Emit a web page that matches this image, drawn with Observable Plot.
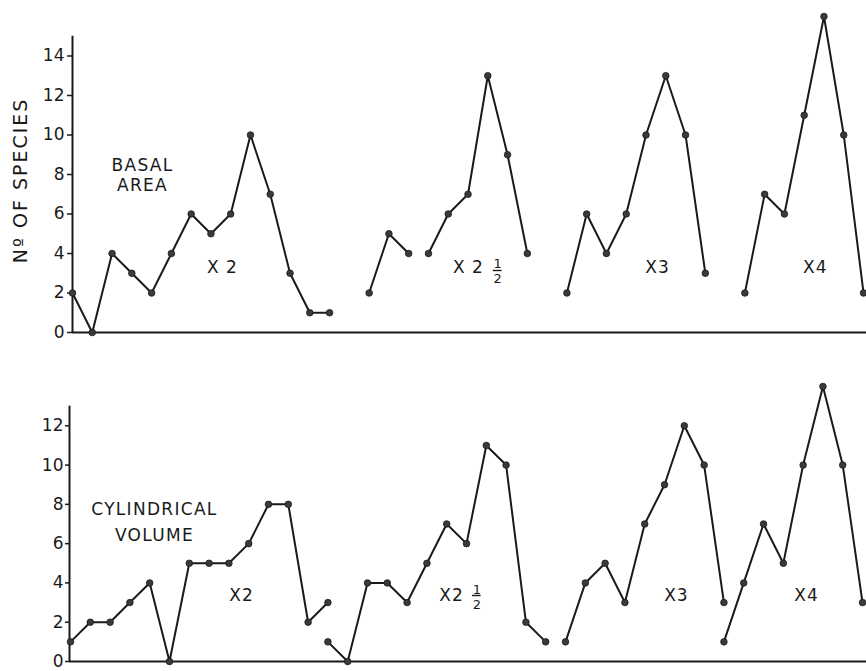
<!DOCTYPE html>
<html>
<head>
<meta charset="utf-8">
<script src="https://cdn.jsdelivr.net/npm/d3@7"></script>
<script src="https://cdn.jsdelivr.net/npm/@observablehq/plot@0.6"></script>
<style>
  body { margin: 0; background: #fff; }
  #chart svg { display: block; overflow: visible; }
</style>
</head>
<body>
<div id="chart"></div>
<script>
// ---- Data (size-class index -> number of species) ----
// Top panel: BASAL AREA
const basalX2      = [2, 0, 4, 3, 2, 4, 6, 5, 6, 10, 7, 3, 1, 1];
const basalX2hA    = [2, 5, 4];
const basalX2hB    = [4, 6, 7, 13, 9, 4];
const basalX3      = [2, 6, 4, 6, 10, 13, 10, 3];
const basalX4      = [2, 7, 6, 11, 16, 10, 2];
const basalStarts  = [0, 15, 18, 25, 34];
// Bottom panel: CYLINDRICAL VOLUME
const volX2        = [1, 2, 2, 3, 4, 0, 5, 5, 5, 6, 8, 8, 2, 3];
const volX2h       = [1, 0, 4, 4, 3, 5, 7, 6, 11, 10, 2, 1];
const volX3        = [1, 4, 5, 3, 7, 9, 12, 10, 3];
const volX4        = [1, 4, 7, 5, 10, 14, 10, 3];
const volStarts    = [0, 13, 25, 33];
// Tick labels
const basalTicks = [0, 2, 4, 6, 8, 10, 12, 14];
const volTicks   = [0, 2, 4, 6, 8, 10, 12];

function rows(series, starts) {
  const out = [];
  series.forEach((vals, s) => vals.forEach((v, i) => out.push({seg: s, x: starts[s] + i, y: v})));
  return out;
}
const basalData = rows([basalX2, basalX2hA, basalX2hB, basalX3, basalX4], basalStarts);
const volData = rows([volX2, volX2h, volX3, volX4], volStarts);

const INK = "#1a1a1a";
const FONT = "DejaVu Sans, sans-serif";

function seriesMarks(data) {
  return [
    Plot.line(data, {x: "x", y: "y", z: "seg", stroke: INK, strokeWidth: 2}),
    Plot.dot(data, {x: "x", y: "y", r: 3.3, fill: "#3a3a3a", stroke: INK, strokeWidth: 0.8})
  ];
}
function label(text, x, y) {
  return Plot.text([text], {x: [x], y: [y], text: d => d, fill: INK, fontSize: 17});
}
function fraction(x, yTop, yBar, yBot, halfW) {
  return [
    Plot.text(["1"], {x: [x], y: [yTop], text: d => d, fill: INK, fontSize: 13}),
    Plot.text(["2"], {x: [x], y: [yBot], text: d => d, fill: INK, fontSize: 13}),
    Plot.ruleY([yBar], {x1: x - halfW, x2: x + halfW, stroke: INK, strokeWidth: 1.4})
  ];
}
function space(svg, test, px) {
  d3.select(svg).selectAll('g[aria-label="text"] text')
    .filter(function () { return test(this.textContent); })
    .style("letter-spacing", px + "px");
}

const basalPlot = Plot.plot({
  width: 866, height: 340,
  marginLeft: 72, marginRight: 0, marginTop: 16, marginBottom: 8,
  style: {fontFamily: FONT, fontSize: "17px", color: INK, background: "#fff"},
  x: {domain: [0, 40.15], axis: null},
  y: {domain: [0, 16], axis: null},
  marks: [
    Plot.axisY({ticks: basalTicks, label: null, tickSize: 5, tickPadding: 3, fontSize: 17, stroke: INK, strokeWidth: 1.5, fill: INK}),
    Plot.ruleX([0], {y1: 0, y2: 15, stroke: INK, strokeWidth: 2}),
    Plot.ruleY([0], {x1: 0, x2: 40.15, stroke: INK, strokeWidth: 2}),
    ...seriesMarks(basalData),
    Plot.text(["Nº OF SPECIES"], {x: [0], y: [7.7], dx: -52, rotate: -90, text: d => d, fill: INK, fontSize: 19}),
    Plot.text(["BASAL\nAREA"], {x: [3.54], y: [8.0], text: d => d, fill: INK, fontSize: 17, lineHeight: 1.2}),
    label("X 2", 7.58, 3.29),
    label("X 2", 20.02, 3.29),
    ...fraction(21.5, 3.5, 3.14, 2.74, 0.22),
    label("X3", 29.58, 3.29),
    label("X4", 37.56, 3.29)
  ]
});

const volPlot = Plot.plot({
  width: 866, height: 331,
  marginLeft: 69, marginRight: 0, marginTop: 46, marginBottom: 10,
  style: {fontFamily: FONT, fontSize: "17px", color: INK, background: "#fff"},
  x: {domain: [-0.05, 40.2], axis: null},
  y: {domain: [0, 14], axis: null},
  marks: [
    Plot.axisY({ticks: volTicks, label: null, tickSize: 4, tickPadding: 2, fontSize: 17, stroke: INK, strokeWidth: 1.5, fill: INK}),
    Plot.ruleX([-0.05], {y1: 0, y2: 13, stroke: INK, strokeWidth: 2}),
    Plot.ruleY([0], {x1: -0.05, x2: 40.2, stroke: INK, strokeWidth: 2}),
    ...seriesMarks(volData),
    Plot.text(["CYLINDRICAL\nVOLUME"], {x: [4.24], y: [7.2], text: d => d, fill: INK, fontSize: 17, lineHeight: 1.5}),
    label("X2", 8.64, 3.36),
    label("X2", 19.24, 3.36),
    ...fraction(20.52, 3.66, 3.36, 2.88, 0.22),
    label("X3", 30.6, 3.36),
    label("X4", 37.17, 3.36)
  ]
});

space(basalPlot, t => t.includes("SPECIES"), 2);
space(basalPlot, t => t.includes("BASAL"), 1.3);
space(volPlot, t => t.includes("CYLINDRICAL"), 1.3);
space(basalPlot, t => t.startsWith("X"), 1);
space(volPlot, t => t.startsWith("X"), 1);

document.getElementById("chart").append(basalPlot, volPlot);
</script>
</body>
</html>
